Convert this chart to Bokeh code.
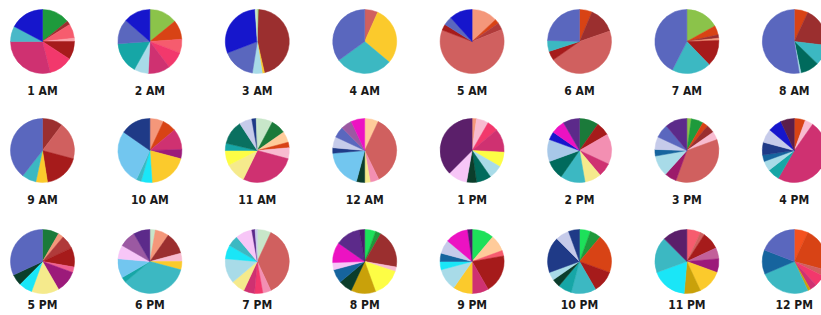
import numpy as np
from bokeh.plotting import figure
from bokeh.models import Range1d, ColumnDataSource
from bokeh.core.properties import value
from bokeh.embed import file_html
from bokeh.resources import INLINE

# ---------------- data ----------------
hours = ["1 AM", "2 AM", "3 AM", "4 AM", "5 AM", "6 AM", "7 AM", "8 AM",
         "9 AM", "10 AM", "11 AM", "12 AM", "1 PM", "2 PM", "3 PM", "4 PM",
         "5 PM", "6 PM", "7 PM", "8 PM", "9 PM", "10 PM", "11 PM", "12 PM"]

v_1am = [51, 7, 26, 6, 33, 43, 104, 28, 62]
v_2am = [51, 35, 25, 32, 40, 26, 57, 45, 49]
v_3am = [3, 164, 4, 18, 60, 107, 4]
v_4am = [24, 106, 104, 126]
v_5am = [47, 8, 13, 223, 11, 16, 42]
v_6am = [23, 48, 164, 17, 20, 88]
v_7am = [61, 17, 6, 4, 48, 71, 153]
v_8am = [25, 72, 37, 34, 3, 189]
v_9am = [37, 68, 66, 21, 26, 142]
v_10am = [25, 25, 38, 17, 71, 20, 9, 100, 55]
v_11am = [28, 27, 20, 10, 20, 101, 37, 27, 13, 44, 23, 8, 2]
v_12am = [25, 129, 16, 10, 15, 70, 10, 20, 20, 20, 25]
v_1pm = [8, 22, 20, 43, 27, 25, 27, 18, 35, 135]
v_2pm = [35, 25, 55, 25, 30, 45, 35, 40, 15, 25, 30]
v_3pm = [8, 22, 10, 15, 15, 130, 22, 38, 12, 23, 25, 40]
v_4pm = [20, 15, 175, 22, 18, 12, 23, 25, 25, 25]
v_5pm = [30, 10, 25, 35, 10, 40, 50, 25, 20, 115]
v_6pm = [10, 25, 40, 15, 15, 125, 10, 35, 25, 30, 30]
v_7pm = [25, 130, 15, 15, 20, 25, 45, 25, 20, 30, 6, 4]
v_8pm = [20, 10, 70, 8, 52, 45, 25, 25, 13, 37, 45, 10]
v_9pm = [40, 30, 10, 70, 30, 35, 40, 15, 15, 25, 42, 8]
v_10pm = [20, 20, 70, 40, 45, 25, 15, 15, 65, 25, 20]
v_11pm = [25, 8, 32, 20, 25, 45, 30, 65, 65, 45]
v_12pm = [25, 80, 12, 20, 13, 5, 92, 44, 69]

# ---------------- colours ----------------
GREEN = "#1e9a3c"; YG = "#8bc34a"; LGREEN = "#c8e6c9"; BGREEN = "#1de05a"
DKGREEN = "#1b7a3a"; DKRED = "#9b2f2f"; RED = "#a61b1b"; ROSE = "#d0605f"
CORAL = "#f65c6e"; HOTPINK = "#f2386c"; CRIMSON = "#cf3171"; SALMON = "#f4977a"
PEACH = "#ffcb9a"; ORANGERED = "#d84315"; ORANGE = "#f4511e"; LPINK = "#f8bbd0"
PINK = "#f38fb2"; YELLOW = "#fbca2c"; BYELLOW = "#fdfd45"; PYELLOW = "#f5ea8c"
GOLD = "#c9a10a"; TEAL = "#3cb8c2"; DTEAL = "#16a6a6"; DKTEAL = "#006a5c"
DKGREEN2 = "#0b3d2b"; CYAN = "#1ae6f7"; LBLUE = "#a8dbe8"; SKY = "#72c6ef"
BLUETEAL = "#16649e"; NAVY = "#1f3a87"; SLATE = "#5a67be"; BLUE = "#1616cc"
LAVENDER = "#c6cbea"; PLAV = "#f7c6f7"; ORCHID = "#9b59a2"; MAGENTA = "#ec12c2"
PURPLE = "#5c2a8a"; DPURPLE = "#5b1f6a"; PMAG = "#9c1a7a"

c_1am = [GREEN, DKRED, CORAL, "#f8a0a8", RED, HOTPINK, CRIMSON, "#4ab8c8", BLUE]
c_2am = [YG, ORANGERED, CORAL, HOTPINK, CRIMSON, LBLUE, DTEAL, SLATE, BLUE]
c_3am = [YG, DKRED, YELLOW, LBLUE, SLATE, BLUE, LGREEN]
c_4am = [ROSE, YELLOW, TEAL, SLATE]
c_5am = [SALMON, ORANGERED, "#b03a3a", ROSE, RED, SLATE, BLUE]
c_6am = [ORANGERED, DKRED, ROSE, RED, TEAL, SLATE]
c_7am = [YG, ORANGERED, DKRED, SALMON, RED, TEAL, SLATE]
c_8am = [ORANGERED, DKRED, TEAL, DKTEAL, LBLUE, SLATE]
c_9am = [DKRED, ROSE, RED, YELLOW, TEAL, SLATE]
c_10am = [SALMON, ORANGERED, CRIMSON, PMAG, YELLOW, CYAN, TEAL, SKY, NAVY]
c_11am = [LGREEN, DKGREEN, PEACH, ORANGERED, LPINK, CRIMSON, PYELLOW, BYELLOW,
          DTEAL, "#0a7060", LAVENDER, NAVY, LGREEN]
c_12am = [PEACH, ROSE, PINK, PYELLOW, DKGREEN2, SKY, NAVY, LAVENDER, SLATE, ORCHID, MAGENTA]
c_1pm = [SALMON, LPINK, HOTPINK, CRIMSON, BYELLOW, LBLUE, DKTEAL, DKGREEN2, PLAV, DPURPLE]
c_2pm = [DKGREEN, RED, PINK, CRIMSON, PYELLOW, TEAL, DKTEAL, "#a8c8e8", BLUE, MAGENTA, PURPLE]
c_3pm = [YG, GREEN, ORANGERED, DKRED, LPINK, ROSE, "#9c1a6a", LBLUE, BLUETEAL,
         LAVENDER, SLATE, PURPLE]
c_4pm = [ORANGERED, LPINK, CRIMSON, DTEAL, LBLUE, BLUETEAL, NAVY, LAVENDER, BLUE, "#5b1f4a"]
c_5pm = [DKGREEN, SALMON, "#b03a3a", RED, "#f06090", PMAG, PYELLOW, CYAN, DKGREEN2, SLATE]
c_6pm = [LGREEN, SALMON, DKRED, LPINK, YELLOW, TEAL, DTEAL, SKY, PLAV, ORCHID, PURPLE]
c_7pm = [LGREEN, ROSE, PINK, HOTPINK, CRIMSON, PYELLOW, LBLUE, CYAN, TEAL, PLAV, PURPLE, LAVENDER]
c_8pm = [BGREEN, GREEN, DKRED, LPINK, BYELLOW, GOLD, DKGREEN2, BLUETEAL, PLAV, MAGENTA,
         PURPLE, "#4a1a6a"]
c_9pm = [BGREEN, PEACH, CORAL, RED, CRIMSON, YELLOW, LBLUE, CYAN, BLUETEAL, LAVENDER,
         MAGENTA, "#4a1a6a"]
c_10pm = [BGREEN, GREEN, ORANGERED, RED, TEAL, DTEAL, DKGREEN2, LBLUE, NAVY, LAVENDER, NAVY]
c_11pm = [CORAL, ROSE, RED, "#c2609a", PMAG, YELLOW, GOLD, CYAN, TEAL, DPURPLE]
c_12pm = [ORANGE, ORANGERED, ROSE, HOTPINK, CRIMSON, GOLD, TEAL, BLUETEAL, SLATE]

values = [v_1am, v_2am, v_3am, v_4am, v_5am, v_6am, v_7am, v_8am,
          v_9am, v_10am, v_11am, v_12am, v_1pm, v_2pm, v_3pm, v_4pm,
          v_5pm, v_6pm, v_7pm, v_8pm, v_9pm, v_10pm, v_11pm, v_12pm]
colors = [c_1am, c_2am, c_3am, c_4am, c_5am, c_6am, c_7am, c_8am,
          c_9am, c_10am, c_11am, c_12am, c_1pm, c_2pm, c_3pm, c_4pm,
          c_5pm, c_6pm, c_7pm, c_8pm, c_9pm, c_10pm, c_11pm, c_12pm]

# ---------------- layout ----------------
W, H = 821, 315
X0, DX = 42, 107.4
ROW_Y = [41, 150, 261]
LABEL_Y = [90, 199, 304]
R = 32

p = figure(width=W, height=H, x_range=Range1d(0, W), y_range=Range1d(-H, 0),
           output_backend="svg", toolbar_location=None, x_axis_type=None, y_axis_type=None,
           min_border=0)
p.grid.visible = False
p.outline_line_color = None
p.background_fill_color = "white"

xs, ys, sa, ea, fc = [], [], [], [], []
lx, ly, lt = [], [], []
for i, (vals, cols) in enumerate(zip(values, colors)):
    row, col = divmod(i, 8)
    cx = X0 + col * DX
    cy = -ROW_Y[row]
    v = np.array(vals, dtype=float)
    frac = v / v.sum() * 2 * np.pi
    cum = np.concatenate([[0], np.cumsum(frac)])
    for k in range(len(v)):
        xs.append(cx); ys.append(cy)
        sa.append(np.pi / 2 - cum[k]); ea.append(np.pi / 2 - cum[k + 1])
        fc.append(cols[k])
    lx.append(cx); ly.append(-LABEL_Y[row]); lt.append(hours[i])

src = ColumnDataSource(dict(x=xs, y=ys, start=sa, end=ea, color=fc))
p.wedge(x="x", y="y", radius=R, radius_units="screen", start_angle="start", end_angle="end",
        direction="clock", fill_color="color", line_color="color", line_width=0.5, source=src)

lsrc = ColumnDataSource(dict(x=lx, y=ly, t=lt))
p.text(x="x", y="y", text="t", source=lsrc, text_align="center", text_baseline="alphabetic",
       text_font=value("DejaVu Sans Condensed"), text_font_style="bold",
       text_font_size="12px", text_color="#1a1a1a")

open("out.html", "w").write(file_html(p, INLINE))
